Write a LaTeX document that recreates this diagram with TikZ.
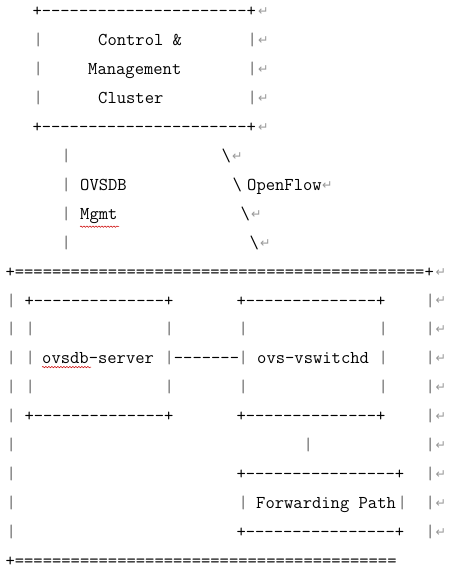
\documentclass[tikz,border=0pt]{standalone}
\usepackage{fontspec}
\newfontfamily\symfont{DejaVu Sans}
\usetikzlibrary{decorations.pathmorphing}
\ExplSyntaxOn
\cs_new:Npn \Rep #1#2 { \prg_replicate:nn {#1} {#2} }
\ExplSyntaxOff
\tikzset{
  mono/.style={font=\ttfamily\fontsize{18.08}{20}\selectfont, inner sep=0pt, anchor=base west, text=black},
  bar/.style={mono, text=black!60},
  ret/.style={font=\symfont\fontsize{12.5}{13}\selectfont, inner sep=0pt, anchor=west, text=black!40},
  wavy/.style={red!80!black, line width=0.5pt, decorate, decoration={snake, amplitude=0.7pt, segment length=3pt}}
}
\newcommand\T[5][mono]{\node[#1] (#2) at (#3,{17+28.9*#4}) {#5};}
\newcommand\RET[3]{\node[ret] (#1) at (#2,{12+28.9*#3}) {↵};}
\begin{document}
\begin{tikzpicture}[x=1pt,y=-1pt]
\useasboundingbox[fill=white] (0,0) rectangle (473,575);
% Control & Management Cluster box
\T{t0}{32.3}{0}{+\Rep{22}{-}+} \RET{n0}{258}{0}
\T[bar]{l1}{33.4}{1}{|} \T{c1}{98}{1}{Control \&} \T[bar]{r1}{247.4}{1}{|} \RET{n1}{258}{1}
\T[bar]{l2}{33.4}{2}{|} \T{c2}{88}{2}{Management} \T[bar]{r2}{247.4}{2}{|} \RET{n2}{258}{2}
\T[bar]{l3}{33.4}{3}{|} \T{c3}{98}{3}{Cluster} \T[bar]{r3}{247.4}{3}{|} \RET{n3}{258}{3}
\T{t4}{32.3}{4}{+\Rep{22}{-}+} \RET{n4}{258}{4}
% links
\T[bar]{v5}{61.4}{5}{|} \T{s5}{221.4}{5}{\textbackslash} \RET{n5}{232}{5}
\T[bar]{v6}{61.4}{6}{|} \T{o6}{80}{6}{OVSDB} \T{s6}{232.4}{6}{\textbackslash} \T{f6}{247}{6}{OpenFlow} \RET{n6}{322}{6}
\T[bar]{v7}{61.4}{7}{|} \T{m7}{80}{7}{Mgmt} \T{s7}{240.4}{7}{\textbackslash} \RET{n7}{251}{7}
\T[bar]{v8}{61.4}{8}{|} \T{s8}{249.4}{8}{\textbackslash} \RET{n8}{260}{8}
% outer box top
\T{e9}{5.35}{9}{+\Rep{44}{=}+} \RET{n9}{435.5}{9}
% inner boxes
\T[bar]{a10}{6.4}{10}{|} \T{b10}{24.35}{10}{+\Rep{14}{-}+} \T{d10}{236.35}{10}{+\Rep{14}{-}+} \T[bar]{z10}{425.35}{10}{|} \RET{n10}{435.5}{10}
\T[bar]{a11}{6.4}{11}{|} \T[bar]{b11}{25.4}{11}{|} \T[bar]{c11}{164.4}{11}{|} \T[bar]{d11}{238.4}{11}{|} \T[bar]{e11}{378.4}{11}{|} \T[bar]{z11}{425.35}{11}{|} \RET{n11}{435.5}{11}
\T[bar]{a12}{6.4}{12}{|} \T[bar]{b12}{25.4}{12}{|} \T{ovsdb}{42}{12}{ovsdb-server} \T[bar]{c12}{164.4}{12}{|} \T{link}{173.7}{12}{\Rep{7}{-}} \T[bar]{d12}{238.4}{12}{|} \T{vsw}{257}{12}{ovs-vswitchd} \T[bar]{e12}{378.4}{12}{|} \T[bar]{z12}{425.35}{12}{|} \RET{n12}{435.5}{12}
\T[bar]{a13}{6.4}{13}{|} \T[bar]{b13}{25.4}{13}{|} \T[bar]{c13}{164.4}{13}{|} \T[bar]{d13}{238.4}{13}{|} \T[bar]{e13}{378.4}{13}{|} \T[bar]{z13}{425.35}{13}{|} \RET{n13}{435.5}{13}
\T[bar]{a14}{6.4}{14}{|} \T{b14}{24.35}{14}{+\Rep{14}{-}+} \T{d14}{236.35}{14}{+\Rep{14}{-}+} \T[bar]{z14}{425.35}{14}{|} \RET{n14}{435.5}{14}
\T[bar]{a15}{6.4}{15}{|} \T[bar]{m15}{303.4}{15}{|} \T[bar]{z15}{425.35}{15}{|} \RET{n15}{435.5}{15}
\T[bar]{a16}{6.4}{16}{|} \T{d16}{236.35}{16}{+\Rep{16}{-}+} \T[bar]{z16}{425.35}{16}{|} \RET{n16}{435.5}{16}
\T[bar]{a17}{6.4}{17}{|} \T[bar]{d17}{238.4}{17}{|} \T{fp}{256}{17}{Forwarding Path} \T[bar]{e17}{397.4}{17}{|} \T[bar]{z17}{425.35}{17}{|} \RET{n17}{435.5}{17}
\T[bar]{a18}{6.4}{18}{|} \T{d18}{236.35}{18}{+\Rep{16}{-}+} \T[bar]{z18}{425.35}{18}{|} \RET{n18}{435.5}{18}
% outer box bottom
\T{e19}{5.35}{19}{+\Rep{41}{=}}
% spell-check underlines
\draw[wavy] (m7.south west) ++(0,3) -- ++(39,0);
\draw[wavy] (ovsdb.south west) ++(0,3) -- ++(49,0);
\end{tikzpicture}
\end{document}
